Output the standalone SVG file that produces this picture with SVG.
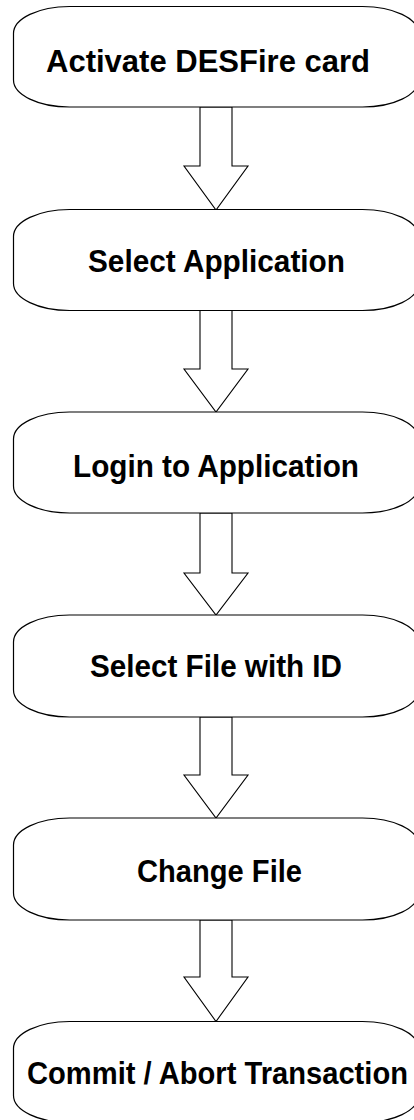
<svg xmlns="http://www.w3.org/2000/svg" width="414" height="1120" viewBox="0 0 414 1120">
<style>
.box{fill:#fff;stroke:#000;stroke-width:1.2}
.arr{fill:#fff;stroke:#000;stroke-width:1.1;stroke-linejoin:miter}
.lbl{font-family:"Liberation Sans",Arial,sans-serif;font-weight:bold;font-size:31.5px;fill:#000}
</style>
<rect width="414" height="1120" fill="#fff"/>
<g id="connectors">
<polygon class="arr" points="200,107 200,166 184,166 216,210 248,166 232,166 232,107"/>
<polygon class="arr" points="200,310 200,369 184,369 216,412 248,369 232,369 232,310"/>
<polygon class="arr" points="200,513 200,573 184,573 216,615 248,573 232,573 232,513"/>
<polygon class="arr" points="200,717 200,775 184,775 216,818 248,775 232,775 232,717"/>
<polygon class="arr" points="200,920 200,977 184,977 216,1021.5 248,977 232,977 232,920"/>
</g>
<g id="n1">
<rect class="box" x="13.5" y="6.5" width="405" height="100.5" rx="56" ry="27"/>
<text class="lbl" x="46" y="72" textLength="324" lengthAdjust="spacingAndGlyphs">Activate DESFire card</text>
</g>
<g id="n2">
<rect class="box" x="13.5" y="209.5" width="405" height="101" rx="56" ry="27"/>
<text class="lbl" x="88" y="272" textLength="257" lengthAdjust="spacingAndGlyphs">Select Application</text>
</g>
<g id="n3">
<rect class="box" x="13.5" y="412" width="405" height="101" rx="56" ry="27"/>
<text class="lbl" x="73" y="477" textLength="286" lengthAdjust="spacingAndGlyphs">Login to Application</text>
</g>
<g id="n4">
<rect class="box" x="13.5" y="615" width="405" height="102" rx="56" ry="27"/>
<text class="lbl" x="90" y="677" textLength="252" lengthAdjust="spacingAndGlyphs">Select File with ID</text>
</g>
<g id="n5">
<rect class="box" x="13.5" y="818" width="405" height="102" rx="56" ry="27"/>
<text class="lbl" x="137" y="882" textLength="165" lengthAdjust="spacingAndGlyphs">Change File</text>
</g>
<g id="n6">
<rect class="box" x="13.5" y="1021.5" width="405" height="101" rx="56" ry="27"/>
<text class="lbl" x="27" y="1084" textLength="381" lengthAdjust="spacingAndGlyphs">Commit / Abort Transaction</text>
</g>
</svg>
